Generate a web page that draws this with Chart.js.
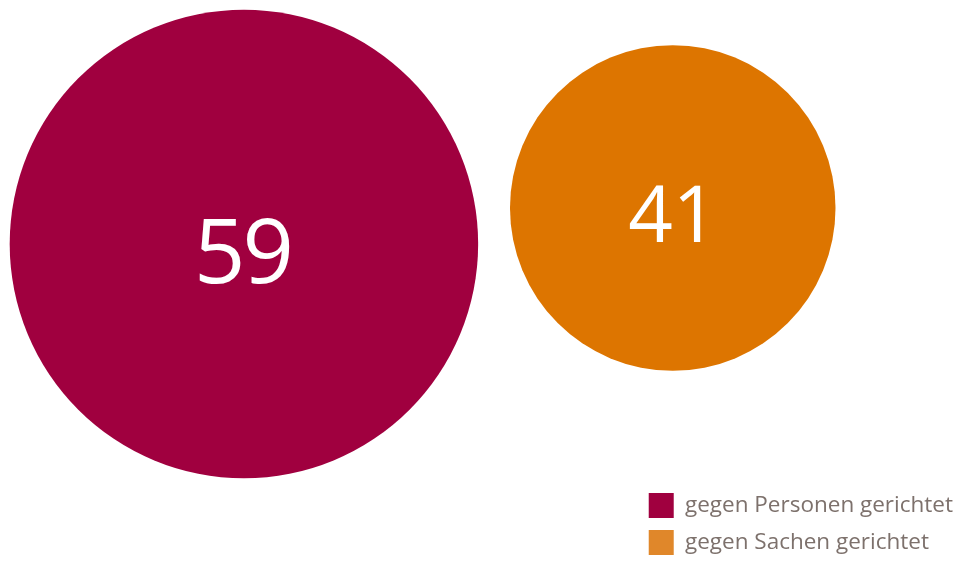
<!DOCTYPE html>
<html>
<head>
<meta charset="utf-8">
<script src="https://cdn.jsdelivr.net/npm/chart.js@4.4.1/dist/chart.umd.min.js"></script>
<style>
  body { margin: 0; background: #fff; }
  #wrap { width: 958px; height: 561px; }
</style>
</head>
<body>
<div id="wrap"><canvas id="bubble-chart"></canvas></div>
<script>
// data
const categories = ["gegen Personen gerichtet", "gegen Sachen gerichtet"];
const values = [59, 41];

// styles
const circleColors = ["#a0003f", "#dd7500"];
const legendColors = ["#a0003f", "#e0872a"];
const legendText = "#7d716c";
const labelSizes = [90, 78];
const pxPerUnit = 3.97; // bubble radius per value unit

const valueLabels = {
  id: "valueLabels",
  afterDatasetsDraw(chart) {
    const ctx = chart.ctx;
    ctx.save();
    ctx.fillStyle = "#fff";
    ctx.textAlign = "center";
    ctx.textBaseline = "alphabetic";
    chart.data.datasets.forEach((ds, i) => {
      const pt = chart.getDatasetMeta(i).data[0];
      const size = labelSizes[i];
      ctx.font = size + "px 'Open Sans'";
      ctx.letterSpacing = i === 0 ? "-3px" : "0px";
      ctx.fillText(String(values[i]), pt.x - (i === 0 ? 1.5 : 0), pt.y + size * 0.435);
    });
    ctx.restore();
  }
};

new Chart(document.getElementById("bubble-chart"), {
  type: "bubble",
  data: {
    datasets: categories.map((c, i) => ({
      label: c,
      data: [{ x: i, y: values[i], r: values[i] * pxPerUnit }],
      backgroundColor: circleColors[i],
      borderWidth: 0,
      clip: false
    }))
  },
  options: {
    responsive: true,
    maintainAspectRatio: false,
    animation: false,
    events: [],
    layout: { autoPadding: false, padding: { left: 0, right: -5, top: 0, bottom: -6 } },
    scales: {
      x: { type: "linear", display: false, min: -0.5688, max: 0.9160 },
      y: { type: "linear", display: false, reverse: true, min: -63, max: 217.5 }
    },
    plugins: {
      tooltip: { enabled: false },
      legend: {
        position: "right",
        align: "end",
        labels: {
          boxWidth: 25,
          boxHeight: 25,
          padding: 12,
          color: legendText,
          font: { family: "'Open Sans'", size: 22.5 },
          generateLabels(chart) {
            return chart.data.datasets.map((ds, i) => ({
              text: ds.label,
              fillStyle: legendColors[i],
              strokeStyle: legendColors[i],
              fontColor: legendText,
              lineWidth: 0,
              datasetIndex: i
            }));
          }
        }
      }
    }
  },
  plugins: [valueLabels]
});
</script>
</body>
</html>
